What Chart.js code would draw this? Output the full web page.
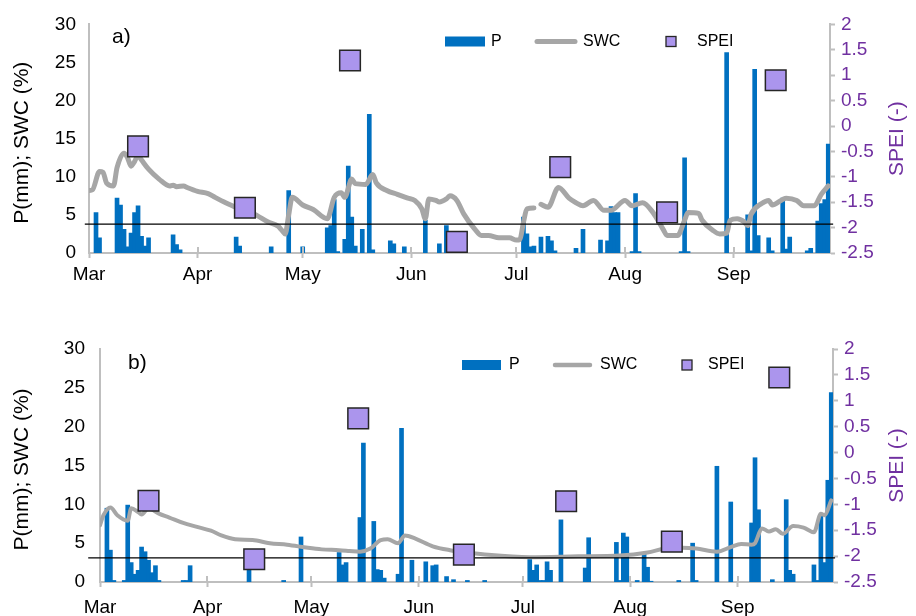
<!DOCTYPE html>
<html>
<head>
<meta charset="utf-8">
<script src="https://cdn.jsdelivr.net/npm/chart.js@4.4.1/dist/chart.umd.min.js"></script>
<style>
  html, body { margin: 0; padding: 0; background: #fff; width: 916px; height: 616px; overflow: hidden; }
  canvas { position: absolute; left: 0; }
  #panelA { top: 0; }
  #panelB { top: 316px; }
</style>
</head>
<body>
<canvas id="panelA" width="916" height="300"></canvas>
<canvas id="panelB" width="916" height="300"></canvas>
<script>
// Day index 0 = 1 March; the season runs to the end of September.
const monthLabels = ['Mar', 'Apr', 'May', 'Jun', 'Jul', 'Aug', 'Sep'];
const monthStartDays = [0, 31, 61, 92, 122, 153, 184];

// Monthly SPEI, plotted at mid-month
const speiDays = [14, 44.5, 74.5, 105, 134.5, 165, 196];

// ---- Site a) ----
const pDaysA = [2,3,8,9,10,11,12,13,14,15,16,17,24,25,26,42,43,52,57,61,68,69,70,71,73,74,75,76,78,80,81,86,87,90,96,100,102,124,125,126,127,129,131,132,133,139,141,146,148,149,150,151,155,156,157,169,170,171,182,188,189,190,191,194,195,198,199,200,205,206,208,209,210,211];
const pValsA = [5.3,2.0,7.2,6.3,3.1,0.8,2.6,5.3,6.2,2.2,0.9,2.0,2.4,1.1,0.4,2.1,0.9,0.8,8.2,0.8,3.3,3.6,7.0,0.2,1.8,11.4,4.7,0.9,3.1,18.2,0.4,1.6,1.2,0.8,4.3,1.2,3.6,4.7,2.5,0.8,0.9,2.1,2.2,1.6,0.3,0.6,3.1,1.7,1.6,6.1,5.3,5.3,0.2,7.8,0.2,0.2,12.5,0.2,26.3,5.0,0.3,24.1,2.3,2.0,0.3,7.2,0.5,2.1,0.3,0.6,4.2,6.5,7.0,14.3];
const swcDaysA = [0,1,3,4,5,7,8,10,11,12,13,14,15,17,20,23,24,25,27,28,31,34,36,39,42,45,48,51,54,55,56,57,58,61,64,68,70,72,73,75,76,79,81,82,85,88,91,93,95,96,97,99,100,102,103,105,107,110,112,114,117,120,122,123,124,125,127,128,129,131,134,137,139,141,144,147,149,153,155,158,161,164,165,168,170,171,174,175,178,180,182,183,185,187,188,189,192,194,195,199,202,204,207,209,211];
const swcValsA = [8.2,8.3,10.7,10.6,9.2,8.8,11.2,13.1,12.5,11.4,12.0,12.8,12.2,11.0,9.7,8.8,8.9,8.7,8.8,8.6,8.1,7.8,7.3,6.6,6.0,5.6,4.9,4.1,3.5,3.0,2.5,5.0,7.3,6.3,5.7,4.5,7.3,7.9,7.3,9.7,9.1,9.0,10.3,9.2,8.2,7.7,7.2,6.9,5.8,4.5,7.1,6.9,6.7,7.1,7.5,6.9,5.1,3.2,2.3,2.3,2.0,2.0,1.7,1.8,4.0,5.8,5.9,null,6.4,6.0,8.6,7.2,6.6,6.2,6.9,5.6,5.6,6.9,6.2,6.6,5.3,3.0,2.3,2.3,4.3,5.3,5.2,4.3,3.0,2.5,2.6,4.3,4.5,4.1,3.6,5.1,6.5,6.9,6.3,7.2,6.9,6.2,6.2,7.7,8.8];
const speiA = [-0.40, -1.61, 1.29, -2.28, -0.81, -1.70, 0.90];
const swcLimitA = 3.8;

// ---- Site b) ----
const pDaysB = [2,3,4,7,8,9,10,11,12,13,14,15,16,17,24,25,26,43,53,58,69,70,71,75,76,79,80,81,82,86,87,90,94,96,97,100,102,106,111,124,125,126,127,128,129,130,133,140,141,149,150,151,152,155,157,158,159,167,171,172,178,182,188,189,190,194,198,199,200,206,207,208,209,210,211];
const pValsB = [9.5,4.1,0.2,0.2,9.9,2.5,1.0,1.5,4.5,3.9,2.8,1.2,2.1,0.2,0.2,0.2,2.1,2.5,0.2,5.8,3.8,2.2,2.5,8.3,17.9,7.8,1.6,1.5,0.5,1.0,19.8,2.8,2.6,2.1,2.2,0.7,0.3,0.2,0.2,2.9,1.5,2.2,0.2,0.2,2.6,1.5,8.0,1.8,5.7,5.1,0.2,6.3,5.8,0.2,3.8,1.9,0.1,0.2,5.0,0.2,14.9,10.3,7.6,16.0,9.3,0.3,10.6,1.5,1.0,2.2,0.2,8.5,2.5,13.1,24.4];
const swcDaysB = [0,1,3,5,8,9,11,12,14,17,20,24,28,32,35,39,44,49,54,60,64,69,72,75,78,81,83,86,88,91,96,101,106,112,124,138,150,158,163,168,172,178,182,185,188,189,191,193,195,197,200,203,206,208,209,211];
const swcValsB = [7.3,8.6,9.6,8.6,7.9,9.5,9.0,8.7,9.5,8.8,8.3,7.6,7.1,6.6,6.0,5.5,5.4,5.0,4.8,4.4,4.2,4.1,4.0,3.9,4.3,5.4,5.5,5.0,6.0,5.6,4.6,4.1,3.8,3.5,3.2,3.3,3.4,3.8,4.3,4.4,4.3,3.9,4.5,4.9,4.8,5.0,6.9,6.5,6.8,6.2,7.2,7.0,6.4,8.8,8.6,10.5];
const speiB = [-0.93, -2.06, 0.66, -1.97, -0.94, -1.72, 1.45];
const swcLimitB = 3.1;

const FONT = "'Liberation Sans', Arial, sans-serif";
const BLUE = '#0070c0';
const GREY = '#a6a6a6';
const AXIS = '#bfbfbf';
const PURPLE = '#7030a0';
const SPEI_FILL = '#ab95ed';
const SPEI_EDGE = '#262626';

Chart.defaults.font.family = FONT;

function pairs(xs, ys) {
  return xs.map((x, i) => ({ x: x, y: ys[i] }));
}

// Panel letter, axis titles, legend and the small tick marks above the date axis
const decor = {
  id: 'decor',
  afterDraw(chart, args, o) {
    const { ctx, chartArea: ca, scales } = chart;
    ctx.save();

    ctx.strokeStyle = AXIS;
    ctx.lineWidth = 2;
    monthStartDays.forEach(d => {
      const px = Math.round(scales.x.getPixelForValue(d));
      ctx.beginPath();
      ctx.moveTo(px, ca.bottom);
      ctx.lineTo(px, ca.bottom - 6);
      ctx.stroke();
    });

    ctx.textBaseline = 'middle';
    ctx.fillStyle = '#000';
    ctx.font = `21px ${FONT}`;
    ctx.textAlign = 'left';
    ctx.fillText(o.letter, o.letterX, o.letterY);

    const midY = (ca.top + ca.bottom) / 2;
    ctx.textAlign = 'center';
    ctx.save();
    ctx.translate(o.leftTitleX, midY + 4);
    ctx.rotate(-Math.PI / 2);
    ctx.fillText('P(mm); SWC (%)', 0, 0);
    ctx.restore();

    ctx.save();
    ctx.fillStyle = PURPLE;
    ctx.translate(o.rightTitleX, midY);
    ctx.rotate(-Math.PI / 2);
    ctx.fillText('SPEI (-)', 0, 0);
    ctx.restore();

    const L = o.legend;
    ctx.fillStyle = BLUE;
    ctx.fillRect(L.pBox[0], L.y - 5, L.pBox[1] - L.pBox[0], 10);
    ctx.strokeStyle = GREY;
    ctx.lineWidth = L.lineW;
    ctx.lineCap = 'round';
    ctx.beginPath();
    ctx.moveTo(L.swcLine[0], L.y);
    ctx.lineTo(L.swcLine[1], L.y);
    ctx.stroke();
    ctx.fillStyle = SPEI_FILL;
    ctx.fillRect(L.sq, L.y - 5, 10, 10);
    ctx.strokeStyle = SPEI_EDGE;
    ctx.lineWidth = 1.3;
    ctx.strokeRect(L.sq, L.y - 5, 10, 10);
    ctx.fillStyle = '#000';
    ctx.font = `16px ${FONT}`;
    ctx.textAlign = 'left';
    ctx.fillText('P', L.pText, L.y);
    ctx.fillText('SWC', L.swcText, L.y);
    ctx.fillText('SPEI', L.speiText, L.y);

    ctx.restore();
  }
};

function makePanel(id, d) {
  const tickFont = { family: FONT, size: 19 };
  return new Chart(document.getElementById(id), {
    type: 'bar',
    data: {
      datasets: [
        {
          type: 'line', label: 'SPEI', yAxisID: 'y2', order: 0,
          data: pairs(speiDays, d.spei),
          showLine: false, clip: false,
          pointStyle: 'rect', pointRadius: 14.6, pointHoverRadius: 14.6,
          pointBackgroundColor: SPEI_FILL, pointBorderColor: SPEI_EDGE, pointBorderWidth: 1.5
        },
        {
          type: 'line', label: 'limit', yAxisID: 'y', order: 1,
          data: [{ x: d.limitFrom, y: d.limit }, { x: d.limitTo, y: d.limit }],
          borderColor: '#000', borderWidth: 1.2, pointRadius: 0, clip: false
        },
        {
          type: 'line', label: 'SWC', yAxisID: 'y', order: 2,
          data: pairs(d.swcDays, d.swc),
          borderColor: GREY, borderWidth: d.swcWidth, pointRadius: 0,
          cubicInterpolationMode: 'monotone', spanGaps: false,
          borderCapStyle: 'round', borderJoinStyle: 'round'
        },
        {
          type: 'bar', label: 'P', yAxisID: 'y', order: 3,
          data: pairs(d.pDays, d.p),
          backgroundColor: BLUE, borderWidth: 0,
          barThickness: 4
        }
      ]
    },
    options: {
      responsive: false,
      animation: false,
      devicePixelRatio: 1,
      layout: { padding: { top: d.top, bottom: 0, left: 0, right: 0 } },
      plugins: {
        legend: { display: false },
        tooltip: { enabled: false },
        decor: d.decor
      },
      scales: {
        x: {
          type: 'linear', min: 0, max: 211.5, offset: false,
          afterBuildTicks: s => { s.ticks = monthStartDays.map(v => ({ value: v })); },
          afterFit: s => { s.height = d.xHeight; },
          ticks: {
            autoSkip: false, maxRotation: 0, color: '#000', font: tickFont, padding: d.xPad,
            callback: v => monthLabels[monthStartDays.indexOf(v)]
          },
          grid: {
            display: true, drawOnChartArea: false, drawTicks: true, offset: false,
            tickLength: 5, tickColor: AXIS, tickWidth: 2
          },
          border: { display: true, color: AXIS, width: 2 }
        },
        y: {
          position: 'left', min: 0, max: 30,
          afterFit: s => { s.width = d.left; },
          ticks: { stepSize: 5, autoSkip: false, color: '#000', font: tickFont, padding: d.yPad },
          grid: { display: false, drawTicks: false },
          border: { display: true, color: AXIS, width: 2 }
        },
        y2: {
          position: 'right', min: -2.5, max: 2,
          afterFit: s => { s.width = 916 - d.right; },
          ticks: {
            stepSize: 0.5, autoSkip: false, color: PURPLE, font: tickFont, padding: 6,
            callback: v => String(Math.round(v * 10) / 10)
          },
          grid: {
            display: true, drawOnChartArea: false, drawTicks: true,
            tickLength: 5, tickColor: AXIS, tickWidth: 2
          },
          border: { display: true, color: AXIS, width: 2 }
        }
      }
    },
    plugins: [decor]
  });
}

makePanel('panelA', {
  pDays: pDaysA, p: pValsA, swcDays: swcDaysA, swc: swcValsA, spei: speiA,
  limit: swcLimitA, limitFrom: -1.2, limitTo: 212.4, swcWidth: 5,
  top: 21, xHeight: 47, xPad: 5, yPad: 13, left: 89, right: 830,
  decor: {
    letter: 'a)', letterX: 112, letterY: 37, leftTitleX: 22, rightTitleX: 897,
    legend: { y: 41.5, pBox: [445, 485], pText: 491, swcLine: [537, 575], lineW: 5, swcText: 583, sq: 666, speiText: 697 }
  }
});

makePanel('panelB', {
  pDays: pDaysB, p: pValsB, swcDays: swcDaysB, swc: swcValsB, spei: speiB,
  limit: swcLimitB, limitFrom: -3.4, limitTo: 212.1, swcWidth: 4,
  top: 33, xHeight: 34, xPad: 9, yPad: 15, left: 100, right: 833,
  decor: {
    letter: 'b)', letterX: 128, letterY: 47, leftTitleX: 22, rightTitleX: 897,
    legend: { y: 49, pBox: [462, 501], pText: 509, swcLine: [555, 590], lineW: 4.5, swcText: 600, sq: 682, speiText: 708 }
  }
});
</script>
</body>
</html>
